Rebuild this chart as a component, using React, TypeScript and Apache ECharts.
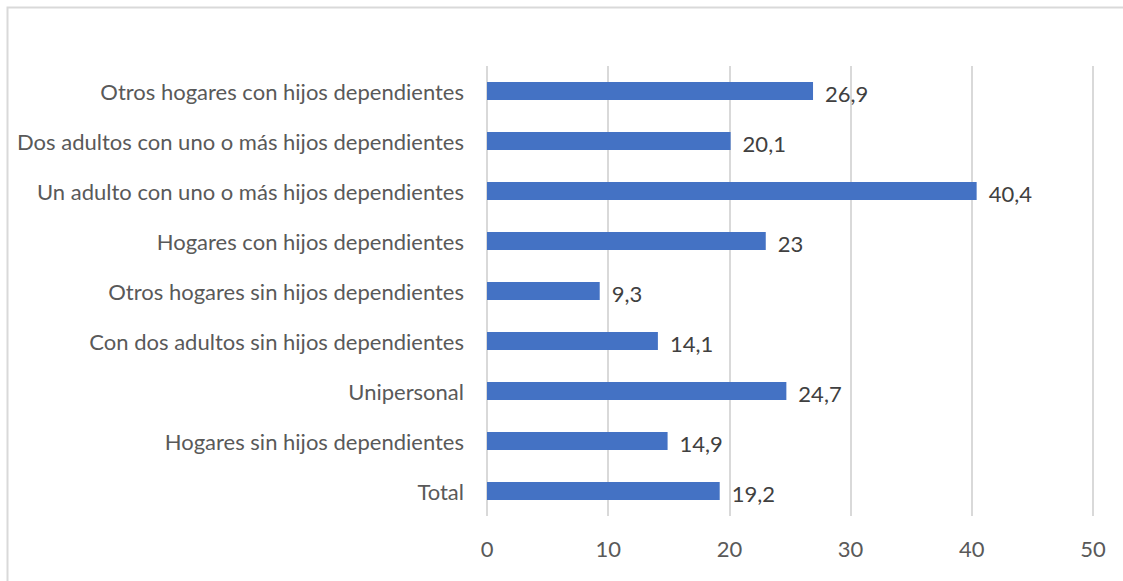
import React, { useEffect, useRef } from "react";
import * as echarts from "echarts";

const categories = [
  "Total",
  "Hogares sin hijos dependientes",
  "Unipersonal",
  "Con dos adultos sin hijos dependientes",
  "Otros hogares sin hijos dependientes",
  "Hogares con hijos dependientes",
  "Un adulto con uno o más hijos dependientes",
  "Dos adultos con uno o más hijos dependientes",
  "Otros hogares con hijos dependientes",
];
const values = [19.2, 14.9, 24.7, 14.1, 9.3, 23, 40.4, 20.1, 26.9];
const xTicks = [0, 10, 20, 30, 40, 50];

const FONT = "Lato";
const TEXT = "#595959";

export default function App() {
  const ref = useRef<HTMLDivElement>(null);
  useEffect(() => {
    if (!ref.current) return;
    const chart = echarts.init(ref.current, null, { renderer: "svg" });
    chart.setOption({
      animation: false,
      backgroundColor: "#ffffff",
      textStyle: { fontFamily: FONT },
      graphic: [
        {
          type: "rect",
          shape: { x: 7.5, y: 7.5, width: 1130, height: 590 },
          style: { fill: "none", stroke: "#d9d9d9", lineWidth: 2 },
          silent: true,
        },
      ],
      grid: { left: 487, right: 30, top: 66, bottom: 65, containLabel: false },
      xAxis: {
        type: "value",
        min: xTicks[0],
        max: xTicks[xTicks.length - 1],
        interval: 10,
        axisLine: { show: false },
        axisTick: { show: false },
        splitLine: { show: true, lineStyle: { color: "#d9d9d9", width: 2 } },
        axisLabel: {
          color: TEXT,
          fontFamily: FONT,
          fontSize: 22,
          margin: 21,
        },
      },
      yAxis: {
        type: "category",
        data: categories,
        axisLine: { show: false },
        axisTick: { show: false },
        axisLabel: {
          color: TEXT,
          fontFamily: FONT,
          fontSize: 22,
          margin: 23,
        },
      },
      series: [
        {
          type: "bar",
          data: values,
          barWidth: 18,
          itemStyle: { color: "#4472c4" },
          label: {
            show: true,
            position: "right",
            distance: 12,
            color: "#404040",
            fontFamily: FONT,
            fontSize: 22,
            offset: [0, 2],
            formatter: (p: any) => String(p.value).replace(".", ","),
          },
        },
      ],
    });
    return () => chart.dispose();
  }, []);
  return (
    <div
      ref={ref}
      style={{ position: "fixed", left: 0, top: 0, width: 1123, height: 581 }}
    />
  );
}
